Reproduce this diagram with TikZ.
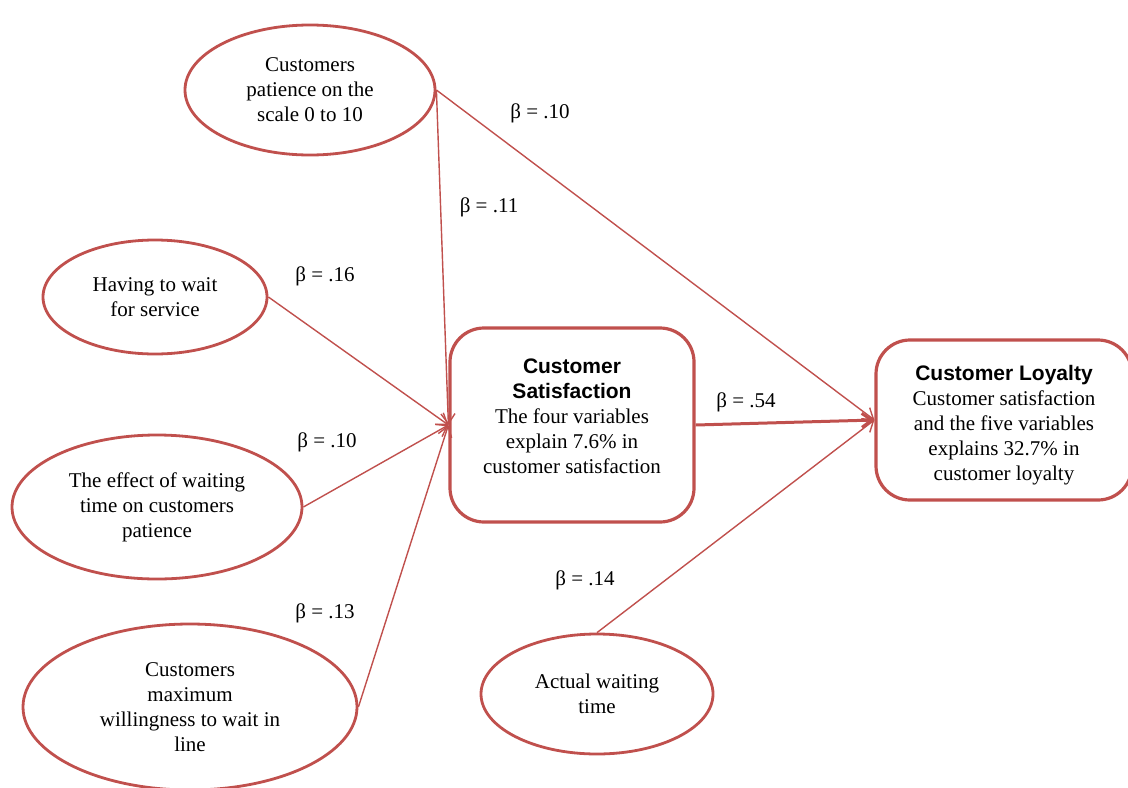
\documentclass[tikz,border=0pt]{standalone}
\usepackage{fontspec}
\setmainfont{Liberation Serif}
\newfontfamily\headfont{Liberation Sans}
\usetikzlibrary{arrows.meta,shapes.geometric}
\definecolor{accred}{RGB}{192,80,77}
\newcommand\hd[1]{{\headfont\bfseries #1}}
\begin{document}
\begin{tikzpicture}[x=0.5pt,y=-0.5pt,font=\fontsize{10.5}{12.5}\selectfont,
var/.style={draw=accred,line width=1.4pt,ellipse,inner sep=0pt,align=center},
res/.style={draw=accred,line width=1.6pt,rounded corners=17pt,align=center,minimum width=122pt},
link/.style={draw=accred,line width=.7pt,-{Straight Barb[length=5pt,width=7pt]}},
beta/.style={inner sep=0pt}]
\useasboundingbox(0,0)rectangle(1128,787);
\node[var,minimum width=125pt,minimum height=65pt](pat)at(310,90){Customers\\patience on the\\scale 0 to 10};
\node[var,minimum width=112pt,minimum height=57pt](wait)at(155,297){Having to wait\\for service};
\node[var,minimum width=145pt,minimum height=72pt](eff)at(157,507){The effect of waiting\\time on customers\\patience};
\node[var,minimum width=167pt,minimum height=83pt](max)at(190,707){Customers\\maximum\\willingness to wait in\\line};
\node[var,minimum width=116pt,minimum height=60pt](act)at(597,694){Actual waiting\\time};
\node[res,minimum height=97pt](cs)at(572,425){\hd{Customer}\\\hd{Satisfaction}\\The four variables\\explain 7.6\% in\\customer satisfaction\\[-4pt]\mbox{}};
\node[res,minimum width=128pt,minimum height=80pt](cl)at(1004,420){\rule{0pt}{13pt}\hd{Customer Loyalty}\\Customer satisfaction\\and the five variables\\explains 32.7\% in\\customer loyalty};
\draw[link](pat.east)--(cs.west);\draw[link](pat.east)--(cl.west);
\draw[link](wait.east)--(cs.west);\draw[link](eff.east)--(cs.west);\draw[link](max.east)--(cs.west);
\draw[link,line width=1.5pt](cs.east)--(cl.west);\draw[link](act.north)--(cl.west);
\node[beta](b1)at(540,113){β = .10};\node[beta](b2)at(489,207){β = .11};\node[beta](b3)at(325,276){β = .16};
\node[beta](b4)at(327,442){β = .10};\node[beta](b5)at(325,613){β = .13};\node[beta](b6)at(746,402){β = .54};
\node[beta](b7)at(585,580){β = .14};
\end{tikzpicture}
\end{document}
